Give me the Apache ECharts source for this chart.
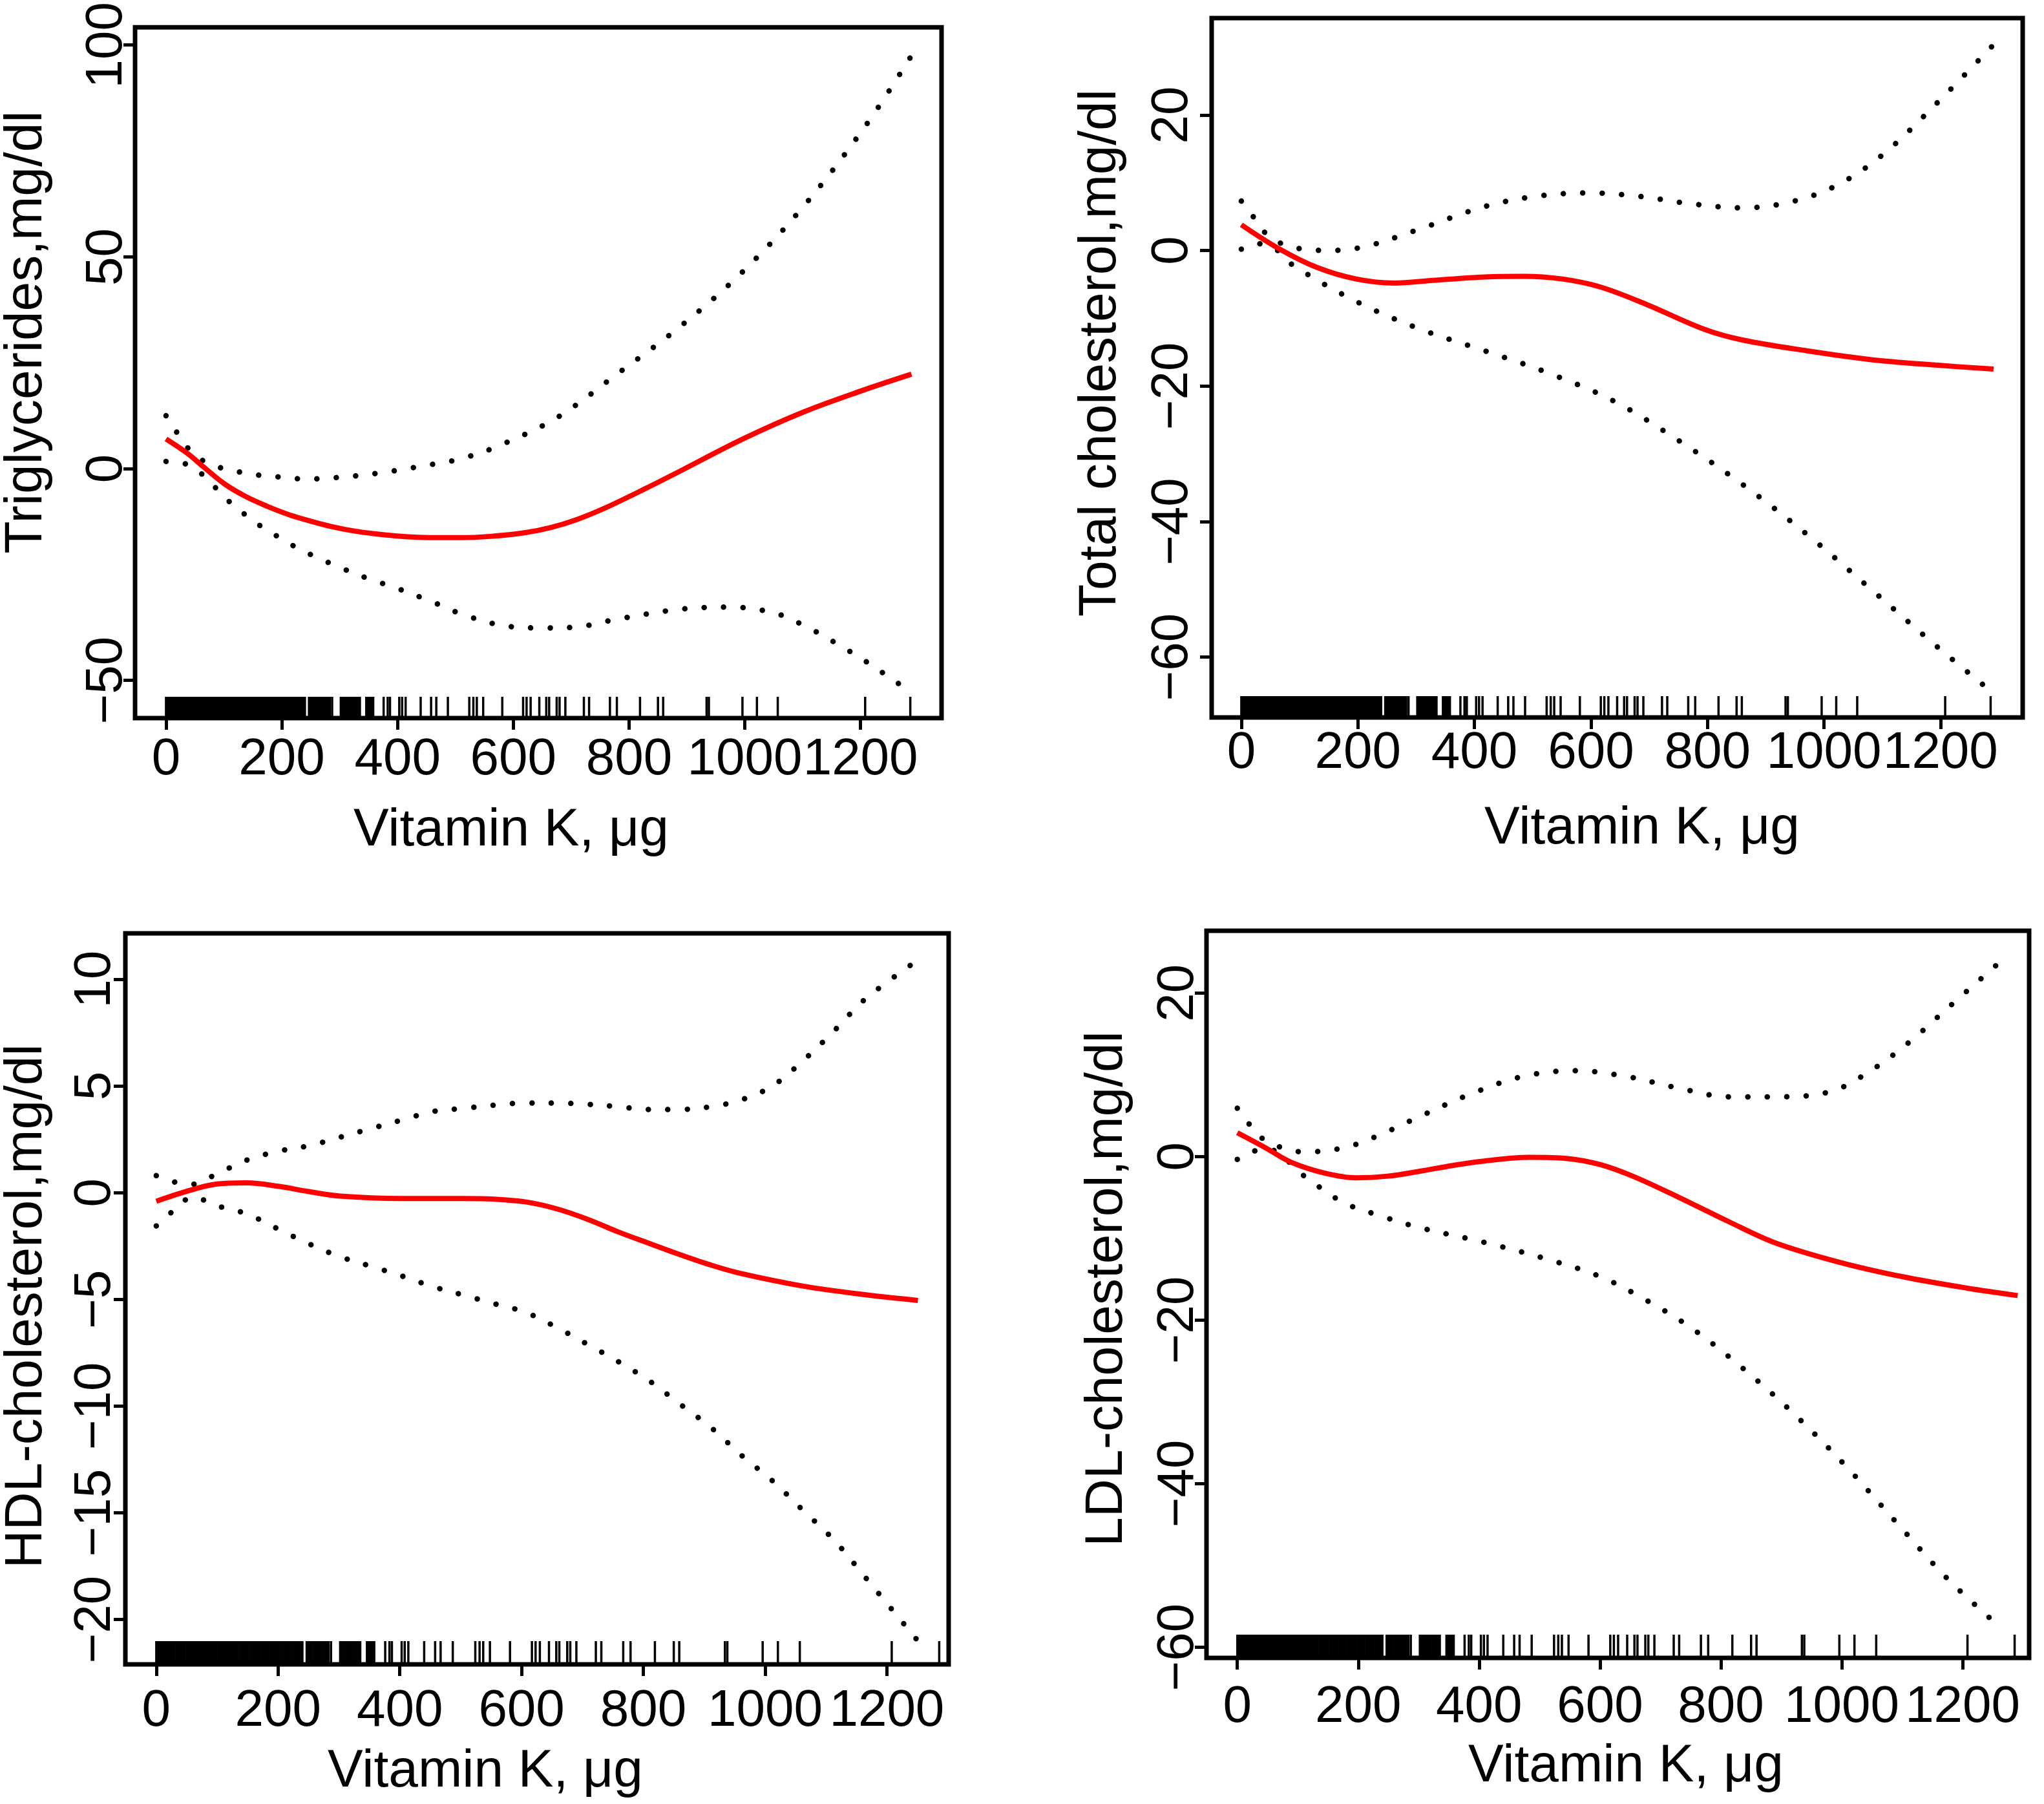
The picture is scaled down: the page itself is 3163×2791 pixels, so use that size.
<!DOCTYPE html>
<html>
<head>
<meta charset="utf-8">
<title>Vitamin K and blood lipids</title>
<script src="https://cdn.jsdelivr.net/npm/echarts@6/dist/echarts.min.js"></script>
<style>
  html, body { margin: 0; padding: 0; background: #fff; }
  #chart { width: 3163px; height: 2791px; }
</style>
</head>
<body>
<div id="chart"></div>
<script>
// shared x axis (Vitamin K, ug) and the rug of observed intakes
const xTicks = [0, 200, 400, 600, 800, 1000, 1200];
const rugValues = [
  0, 2, 4, 6, 8, 10, 12, 14, 16, 18, 20, 22, 24, 26, 28, 30, 33, 35, 37, 40, 42, 45, 47, 50,
  52, 55, 57, 60, 62, 65, 67, 70, 73, 75, 78, 80, 83, 85, 88, 90, 93, 95, 98, 100, 103, 105,
  108, 110, 113, 115, 118, 120, 123, 125, 128, 130, 133, 136, 139, 142, 145, 148, 150, 153,
  156, 159, 162, 165, 168, 170, 173, 176, 179, 182, 185, 188, 190, 193, 196, 199, 202, 205,
  208, 210, 213, 216, 219, 222, 225, 228, 231, 234, 237, 240,
  247, 250, 253, 256, 259, 262, 265, 268, 271, 274, 277, 280, 283, 287, 302, 305,
  308, 311, 314, 317, 320, 323, 326, 329, 332, 335, 346, 349, 352, 355, 358,
  376, 383, 387, 403, 408, 414, 440, 458, 467, 487, 524, 531, 537, 548, 581, 617, 623, 630,
  645, 657, 662, 675, 680, 690, 722, 731, 767, 779, 819, 850, 859, 934, 938, 996, 1021, 1057,
  1208, 1286
];

// Triglycerides
const tgYTicks = [-50, 0, 50, 100];
const tgFitX = [0, 38, 64, 101, 138, 175, 213, 250, 287, 324, 362, 399, 436, 473, 510, 560, 621, 665, 710, 760, 830, 888, 995, 1102, 1200, 1288];
const tgFit = [7.0, 3.5, 0.5, -3.6, -6.6, -8.9, -10.9, -12.4, -13.7, -14.7, -15.4, -15.9, -16.2, -16.3, -16.3, -16.0, -15.1, -13.9, -12.0, -9.2, -4.6, -0.6, 6.9, 13.4, 18.3, 22.3];
const tgUpX = [0, 19, 39, 66, 97, 131, 164, 199, 233, 268, 302, 336, 370, 404, 438, 472, 506, 568, 675, 781, 888, 995, 1102, 1209, 1288];
const tgUp = [12.5, 8.5, 4.7, 1.7, 0.1, -0.9, -1.6, -2.0, -2.4, -2.4, -2.0, -1.6, -1.0, -0.3, 0.5, 1.3, 2.2, 5.0, 12.0, 22.5, 33.5, 46.3, 62.0, 81.0, 97.5];
const tgLoX = [0, 34, 63, 87, 111, 138, 165, 195, 225, 255, 300, 350, 400, 461, 514, 580, 643, 700, 781, 888, 974, 1049, 1102, 1155, 1209, 1262, 1288];
const tgLo = [1.7, 1.1, -1.4, -4.7, -8.0, -11.0, -13.7, -16.2, -18.6, -20.6, -23.3, -26.0, -28.3, -31.5, -34.5, -37.0, -37.6, -37.5, -35.5, -33.2, -32.7, -34.0, -37.0, -41.0, -45.5, -50.4, -52.8];

// Total cholesterol
const tcYTicks = [-60, -40, -20, 0, 20];
const tcFitX = [0, 64, 130, 197, 263, 329, 418, 484, 551, 617, 694, 794, 860, 971, 1081, 1192, 1291];
const tcFit = [3.8, 0.3, -2.5, -4.2, -4.8, -4.4, -3.9, -3.8, -4.2, -5.4, -7.9, -11.6, -13.2, -14.8, -16.1, -16.9, -17.5];
const tcUpX = [0, 25, 48, 80, 108, 150, 175, 219, 307, 418, 506, 595, 683, 772, 860, 949, 1026, 1103, 1192, 1289];
const tcUp = [7.3, 4.5, 2.0, 0.7, 0.2, 0.0, 0.1, 0.7, 3.2, 6.5, 8.0, 8.5, 8.0, 6.9, 6.3, 7.3, 9.8, 14.3, 21.6, 30.2];
const tcLoX = [0, 30, 55, 86, 197, 307, 418, 528, 639, 750, 860, 971, 1081, 1192, 1289];
const tcLo = [0.2, 1.0, 0.5, -2.0, -7.5, -11.6, -14.8, -18.1, -22.2, -28.0, -34.5, -41.9, -50.0, -58.3, -65.2];

// HDL-cholesterol
const hdlYTicks = [-20, -15, -10, -5, 0, 5, 10];
const hdlFitX = [0, 48, 98, 149, 200, 251, 302, 403, 505, 555, 606, 657, 708, 758, 809, 860, 911, 961, 1063, 1164, 1251];
const hdlFit = [-0.4, 0.05, 0.4, 0.46, 0.3, 0.05, -0.16, -0.27, -0.27, -0.3, -0.43, -0.75, -1.24, -1.83, -2.37, -2.9, -3.39, -3.79, -4.38, -4.78, -5.05];
const hdlUpX = [0, 30, 60, 98, 149, 200, 251, 302, 352, 403, 454, 505, 555, 606, 657, 708, 758, 809, 860, 911, 961, 1012, 1063, 1114, 1164, 1251];
const hdlUp = [0.8, 0.5, 0.4, 0.86, 1.53, 1.94, 2.2, 2.6, 3.0, 3.4, 3.8, 3.95, 4.1, 4.2, 4.2, 4.14, 4.03, 3.9, 3.9, 4.03, 4.35, 5.0, 6.2, 7.6, 9.06, 10.9];
const hdlLoX = [0, 30, 60, 98, 149, 200, 251, 302, 352, 403, 454, 505, 555, 606, 657, 708, 758, 809, 860, 911, 961, 1012, 1063, 1114, 1164, 1251];
const hdlLo = [-1.56, -0.8, -0.2, -0.6, -1.0, -1.7, -2.4, -3.0, -3.44, -3.9, -4.4, -4.8, -5.2, -5.6, -6.3, -7.1, -7.9, -8.8, -9.9, -11.0, -12.3, -13.5, -14.9, -16.3, -18.0, -21.0];

// LDL-cholesterol
const ldlYTicks = [-60, -40, -20, 0, 20];
const ldlFitX = [0, 47, 89, 143, 196, 249, 302, 356, 409, 483, 547, 601, 654, 728, 814, 888, 995, 1101, 1208, 1291];
const ldlFit = [2.9, 1.05, -0.7, -2.0, -2.6, -2.4, -1.8, -1.1, -0.55, -0.1, -0.25, -1.0, -2.4, -4.9, -8.0, -10.5, -12.9, -14.7, -16.1, -17.0];
const ldlUpX = [0, 25, 50, 111, 175, 228, 302, 388, 473, 558, 643, 728, 814, 899, 984, 1048, 1112, 1176, 1262];
const ldlUp = [5.9, 3.5, 1.8, 0.56, 1.05, 2.4, 4.9, 7.7, 9.8, 10.5, 9.8, 8.4, 7.3, 7.3, 8.0, 10.5, 14.0, 18.2, 23.8];
const ldlLoX = [0, 25, 50, 111, 175, 239, 302, 409, 515, 601, 675, 750, 835, 920, 1005, 1090, 1176, 1266];
const ldlLo = [-0.35, 0.6, 0.9, -2.4, -5.6, -7.3, -8.7, -10.5, -12.6, -14.7, -17.5, -20.9, -25.8, -31.4, -37.7, -44.7, -51.7, -57.8];

const FONT = 'Liberation Sans, Arial, Helvetica, sans-serif';
const xTitle = 'Vitamin K, \u03bcg';

const panels = [
  { yName: 'Triglycerides,mg/dl', fitX: tgFitX, fit: tgFit, upX: tgUpX, up: tgUp, loX: tgLoX, lo: tgLo, yTicks: tgYTicks,
    xMin: -53.5, xMax: 1340, yMin: -58.9, yMax: 104.2,
    box: [209, 34, 1248, 1077], xGap: 25, yGap: 3, rugLen: 33, xTitlePos: [791, 1285], yTitlePos: [41, 514] },
  { yName: 'Total cholesterol,mg/dl', fitX: tcFitX, fit: tcFit, upX: tcUpX, up: tcUp, loX: tcLoX, lo: tcLo, yTicks: tcYTicks,
    xMin: -50.9, xMax: 1341, yMin: -68.9, yMax: 34.3,
    box: [1875, 28, 1255, 1082], xGap: 16, yGap: 20, rugLen: 33, xTitlePos: [2541, 1282], yTitlePos: [1703, 546] },
  { yName: 'HDL-cholesterol,mg/dl', fitX: hdlFitX, fit: hdlFit, upX: hdlUpX, up: hdlUp, loX: hdlLoX, lo: hdlLo, yTicks: hdlYTicks,
    xMin: -50.8, xMax: 1301.5, yMin: -22.1, yMax: 12.15,
    box: [194, 1444, 1274, 1131], xGap: 33, yGap: 6, rugLen: 36, xTitlePos: [751, 2741], yTitlePos: [41, 2021] },
  { yName: 'LDL-cholesterol,mg/dl', fitX: ldlFitX, fit: ldlFit, upX: ldlUpX, up: ldlUp, loX: ldlLoX, lo: ldlLo, yTicks: ldlYTicks,
    xMin: -51, xMax: 1310, yMin: -61.3, yMax: 27.6,
    box: [1867, 1440, 1273, 1125], xGap: 37, yGap: 3, rugLen: 36, xTitlePos: [2516, 2733], yTitlePos: [1713, 1994] }
];

function zip(xs, ys) {
  return xs.map((x, i) => [x, ys[i]]);
}
function minusLabel(v) {
  return v < 0 ? '\u2212' + Math.abs(v) : String(v);
}

let grids = [], xAxes = [], yAxes = [], series = [], graphics = [];

panels.forEach((p, i) => {
  grids.push({
    left: p.box[0], top: p.box[1], width: p.box[2], height: p.box[3],
    show: true, borderColor: '#000', borderWidth: 7, backgroundColor: 'transparent'
  });
  xAxes.push({
    type: 'value', gridIndex: i, min: p.xMin, max: p.xMax,
    axisLine: { show: false, onZero: false },
    splitLine: { show: false },
    axisTick: { show: true, length: 18, customValues: xTicks, lineStyle: { color: '#000', width: 5 } },
    axisLabel: { customValues: xTicks, margin: p.xGap, color: '#000', fontSize: 80, fontFamily: FONT, formatter: minusLabel }
  });
  yAxes.push({
    type: 'value', gridIndex: i, min: p.yMin, max: p.yMax,
    axisLine: { show: false, onZero: false },
    splitLine: { show: false },
    axisTick: { show: true, length: 18, customValues: p.yTicks, lineStyle: { color: '#000', width: 5 } },
    axisLabel: { customValues: p.yTicks, rotate: 90, margin: p.yGap, color: '#000', fontSize: 80, fontFamily: FONT, formatter: minusLabel }
  });

  const bottom = p.yMin, rugLen = p.rugLen;
  series.push({
    type: 'custom', name: 'rug' + i, xAxisIndex: i, yAxisIndex: i, silent: true,
    data: rugValues.map(v => [v, bottom]),
    renderItem: (params, api) => {
      const pt = api.coord([api.value(0), bottom]);
      return {
        type: 'line',
        shape: { x1: pt[0], y1: pt[1], x2: pt[0], y2: pt[1] - rugLen },
        style: { stroke: '#000', lineWidth: 3.5 }
      };
    }
  });
  [[p.upX, p.up], [p.loX, p.lo]].forEach(([xs, ys]) => {
    series.push({
      type: 'line', xAxisIndex: i, yAxisIndex: i, data: zip(xs, ys),
      showSymbol: false, smooth: 0.35,
      lineStyle: { color: '#000', width: 8.5, type: [0.1, 30], cap: 'round' }
    });
  });
  series.push({
    type: 'line', xAxisIndex: i, yAxisIndex: i, data: zip(p.fitX, p.fit),
    showSymbol: false, smooth: 0.35,
    lineStyle: { color: '#ff0000', width: 8 }
  });

  graphics.push({
    type: 'text', x: p.xTitlePos[0], y: p.xTitlePos[1],
    style: { text: xTitle, fill: '#000', font: '82px ' + FONT,
      align: 'center', verticalAlign: 'middle', textAlign: 'center', textVerticalAlign: 'middle' }
  });
  graphics.push({
    type: 'text', x: p.yTitlePos[0], y: p.yTitlePos[1], rotation: Math.PI / 2,
    style: { text: p.yName, fill: '#000', font: '82px ' + FONT,
      align: 'center', verticalAlign: 'middle', textAlign: 'center', textVerticalAlign: 'middle' }
  });
});

let myChart = echarts.init(document.getElementById('chart'), null, { renderer: 'canvas', devicePixelRatio: 1 });
myChart.setOption({
  animation: false,
  backgroundColor: '#fff',
  textStyle: { fontFamily: FONT },
  grid: grids,
  xAxis: xAxes,
  yAxis: yAxes,
  series: series,
  graphic: graphics
});
</script>
</body>
</html>
